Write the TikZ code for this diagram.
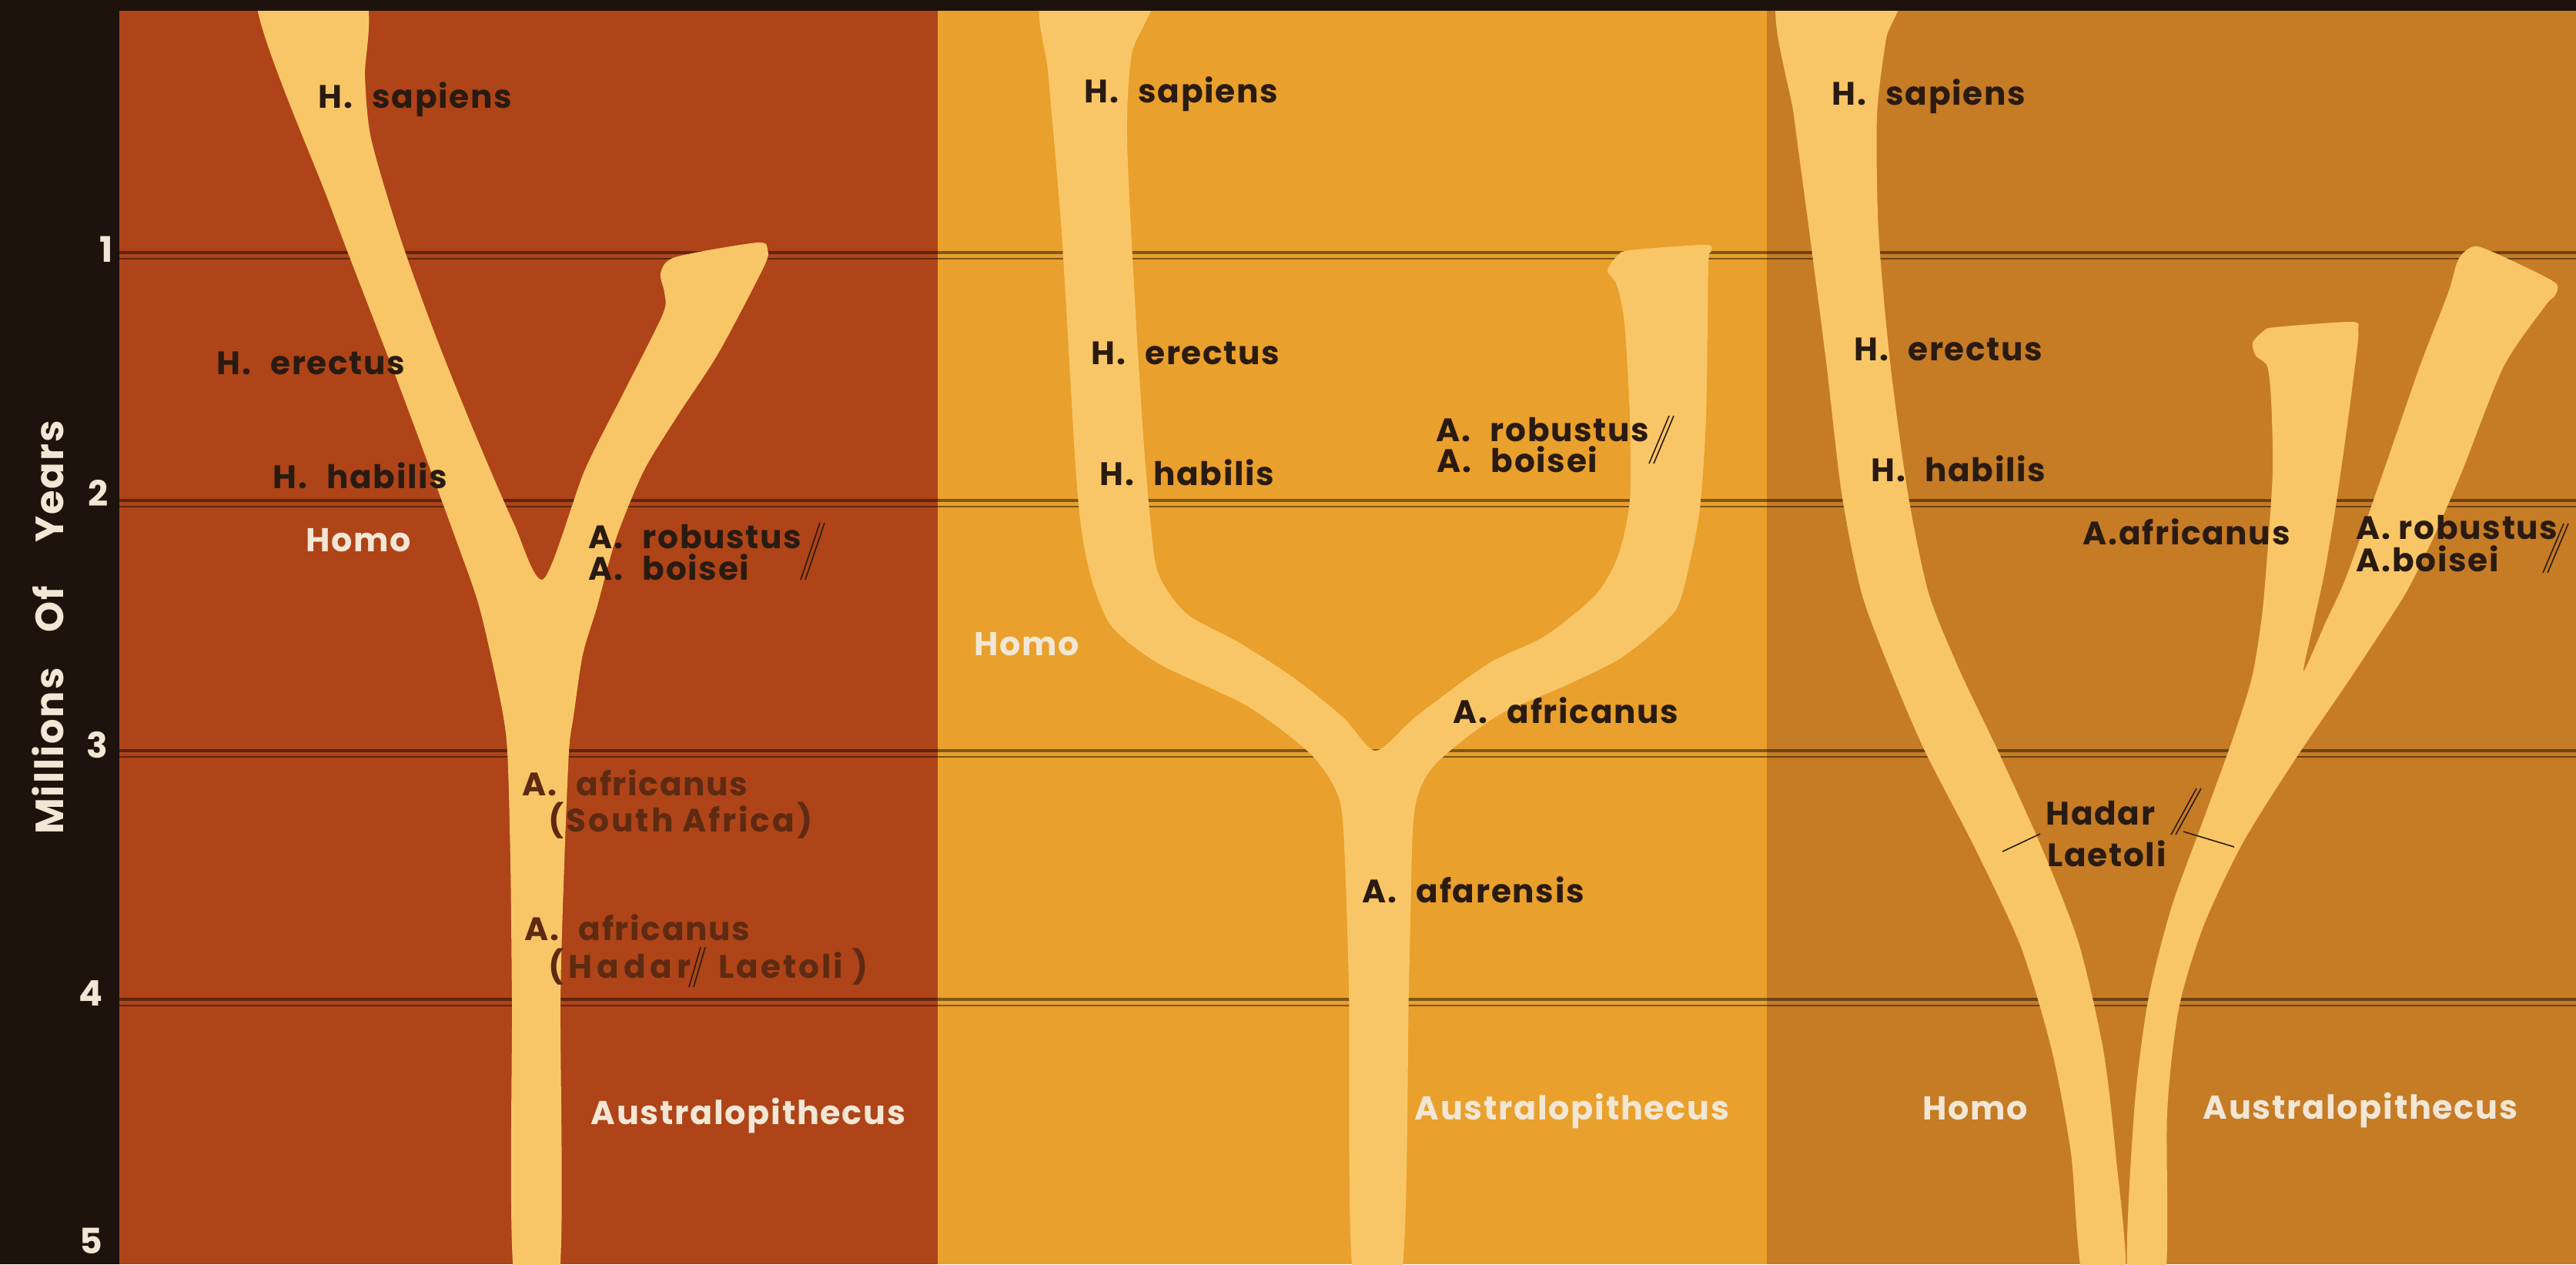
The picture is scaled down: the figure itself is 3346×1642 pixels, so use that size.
\documentclass[tikz,border=0pt]{standalone}
\usepackage{fontspec}
\setmainfont{Poppins}[LetterSpace=4]
\usepackage{xcolor}
\usetikzlibrary{positioning}

\definecolor{strip}{HTML}{1E120C}
\definecolor{rust}{HTML}{AE4418}
\definecolor{gold}{HTML}{E9A02C}
\definecolor{ochre}{HTML}{C67B25}
\definecolor{stem}{HTML}{F9C667}
\definecolor{ink}{HTML}{2A1B12}
\definecolor{faded}{HTML}{5E2A12}
\definecolor{chalk}{HTML}{F2E6D4}
\newcommand{\wsp}{\hspace{0.6em}} % wide gap after the initial

\begin{document}
\begin{tikzpicture}[
    x=0.01cm, y=-0.01cm, line join=round,
    timeline/.style={draw=black, opacity=0.45, line width=1.1pt},
    sp/.style={font=\bfseries\fontsize{12}{13}\selectfont, text=ink, inner sep=0pt, anchor=base west}, % species name
    faint/.style={sp, text=faded},
    genus/.style={sp, text=chalk, font=\bfseries\fontsize{12.2}{13}\selectfont},
    tick/.style={text=chalk, font=\bfseries\fontsize{13}{14}\selectfont, inner sep=0pt},
    slashline/.style={draw=ink, line width=0.45pt},
    dsl/.pic={\draw[slashline] (0,0) -- ++(#1) (6,0) -- ++(#1);}, % double slash
  ]
  \useasboundingbox (0,0) rectangle (3346,1642);
  \clip (0,0) rectangle (3346,1642);

  % --- the three painted panels
  \fill[rust]  (155,0) rectangle (1218,1642);
  \fill[gold]  (1218,0) rectangle (2295,1642);
  \fill[ochre] (2295,0) rectangle (3346,1642);

  % --- time lines, one per million years
  \foreach \y in {328,650,975,1298}{
      \draw[timeline] (155,\y) -- (3346,\y);
      \draw[timeline, line width=0.4pt] (155,\y+8) -- (3346,\y+8);
    }

  % --- panel 1: a single trunk splitting into Homo and robustus
  \fill[stem] plot[smooth cycle, tension=0.45] coordinates {
      (668,1660) (665,1300) (663,1121) (659,976) (650,910) (623,790) (592,700)
      (520,505) (430,270) (333,-5) (471,-5) (474,100) (482,180) (519,306)
      (565,434) (616,561) (667,679) (706,752) (759,612) (810,510) (861,408)
      (863,380) (858,355) (877,334) (984,315) (997,325) (992,347) (933,459)
      (880,540) (836,612) (800,700) (775,790) (757,850) (745,930) (739,976)
      (733,1121) (728,1300) (726,1660)};

  % --- panel 2: afarensis at the root of both lines
  \fill[stem] plot[smooth cycle, tension=0.45] coordinates {
      (1758,1660) (1752,1283) (1745,1079) (1735,1026) (1700,977) (1620,917)
      (1505,862) (1445,815) (1420,760) (1406,697) (1397,606) (1379,303)
      (1362,100) (1356,-5) (1494,-5) (1470,70) (1464,182) (1476,424)
      (1488,606) (1500,727) (1515,765) (1545,800) (1610,835) (1680,880)
      (1745,932) (1787,975) (1840,930) (1933,862) (2007,826) (2073,772)
      (2102,721) (2117,650) (2117,542) (2110,420) (2100,370) (2088,352)
      (2100,333) (2117,325) (2216,318) (2222,328) (2219,345) (2216,542)
      (2208,660) (2195,730) (2178,790) (2139,829) (2098,859) (2030,892)
      (1955,924) (1907,956) (1864,993) (1844,1026) (1835,1079) (1830,1283)
      (1820,1660)};

  % --- panel 3: two separate lines from below 5 million years
  \fill[stem] plot[smooth cycle, tension=0.45] coordinates {
      (2311,-5) (2330,150) (2350,300) (2372,470) (2392,640) (2418,770)
      (2455,870) (2500,975) (2565,1101) (2625,1230) (2665,1364) (2690,1498)
      (2706,1660) (2760,1660) (2748,1498) (2732,1364) (2700,1225) (2652,1101)
      (2595,975) (2545,870) (2505,770) (2478,640) (2455,470) (2440,300)
      (2438,150) (2450,50) (2462,-5)};
  \fill[stem] plot[smooth cycle, tension=0.45] coordinates {
      (2764,1660) (2772,1444) (2790,1300) (2820,1180) (2860,1070) (2900,960)
      (2925,880) (2938,800) (2945,720) (2952,612) (2950,520) (2945,476)
      (2930,462) (2926,445) (2940,430) (2955,425) (3055,418) (3063,428)
      (3062,450) (3050,544) (3035,650) (3020,740) (3005,810) (2992,872)
      (3020,810) (3048,748) (3096,612) (3143,476) (3180,380) (3190,345)
      (3198,330) (3218,320) (3270,342) (3320,368) (3318,385) (3307,396)
      (3252,476) (3198,612) (3160,700) (3125,770) (3080,840) (3040,900)
      (2980,988) (2913,1095) (2862,1203) (2830,1310) (2815,1444) (2812,1660)};

  % --- dark frame: time scale on the left, band along the top
  \fill[strip] (0,0) rectangle (155,1642);
  \fill[strip] (0,0) rectangle (3346,14);
  \foreach \n/\x/\y in {1/138/324, 2/128/640, 3/126/968, 4/118/1290, 5/118/1612}
  \node[tick] (t\n) at (\x,\y) {\n};
  \node[tick, rotate=90, font=\bfseries\fontsize{14.5}{15}\selectfont] (axis) at (62,815)
  {Millions\hspace{0.9em}Of\hspace{1.1em}Years};

  % --- panel 1 labels
  \node[sp] (sap1) at (413,140) {H.\wsp sapiens};
  \node[sp] (ere1) at (281,486) {H.\wsp erectus};
  \node[sp] (hab1) at (354,634) {H.\wsp habilis};
  \node[genus] (homo1) at (397,716) {Homo};
  \node[sp] (rob1) at (764,712) {A.\wsp robustus};
  \node[sp] (boi1) at (764,753) {A.\wsp boisei};
  \pic at (1065,679) {dsl={-25,74}};
  \node[faint] (afr1) at (678,1033) {A.\wsp africanus};
  \node[faint] (saf1) at (712,1080) {\addfontfeature{LetterSpace=7}(South Africa)};
  \node[faint] (afr1b) at (681,1221) {A.\wsp africanus};
  \node[faint] (had1) at (712,1270) {\addfontfeature{LetterSpace=14}(Hadar};
  \node[faint] (lae1) at (933,1270) {\addfontfeature{LetterSpace=7}Laetoli )};
  \pic at (910,1230) {dsl={-15,52}};
  \node[genus] (aus1) at (767,1460) {Australopithecus};

  % --- panel 2 labels
  \node[sp] (sap2) at (1408,133) {H.\wsp sapiens};
  \node[sp] (ere2) at (1417,473) {H.\wsp erectus};
  \node[sp] (hab2) at (1428,630) {H.\wsp habilis};
  \node[sp] (rob2) at (1865,573) {A.\wsp robustus};
  \node[sp] (boi2) at (1866,613) {A.\wsp boisei};
  \pic at (2168,540) {dsl={-26,62}};
  \node[genus] (homo2) at (1265,851) {Homo};
  \node[sp] (afr2) at (1887,939) {A.\wsp africanus};
  \node[sp] (afa2) at (1769,1172) {A.\wsp afarensis};
  \node[genus] (aus2) at (1837,1454) {Australopithecus};

  % --- panel 3 labels
  \node[sp] (sap3) at (2379,136) {H.\wsp sapiens};
  \node[sp] (ere3) at (2408,468) {H.\wsp erectus};
  \node[sp] (hab3) at (2430,625) {H.\wsp habilis};
  \node[sp] (afr3) at (2705,707) {A.africanus};
  \node[sp] (rob3) at (3060,700) {A.\hspace{0.25em}robustus};
  \node[sp] (boi3) at (3060,742) {A.boisei};
  \pic at (3330,680) {dsl={-27,64}};
  \node[sp] (had3) at (2657,1071) {Hadar};
  \node[sp] (lae3) at (2659,1125) {Laetoli};
  \pic at (2853,1024) {dsl={-33,60}};
  \coordinate (homoP) at (2601,1106);
  \coordinate (austP) at (2902,1100);
  \draw[slashline] ([shift={(-7,11)}]had3.south west) -- (homoP);
  \draw[slashline] ([shift={(36,8)}]had3.south east) -- (austP);
  \node[genus] (homo3) at (2497,1454) {Homo};
  \node[genus] (aus3) at (2861,1453) {Australopithecus};
\end{tikzpicture}
\end{document}
